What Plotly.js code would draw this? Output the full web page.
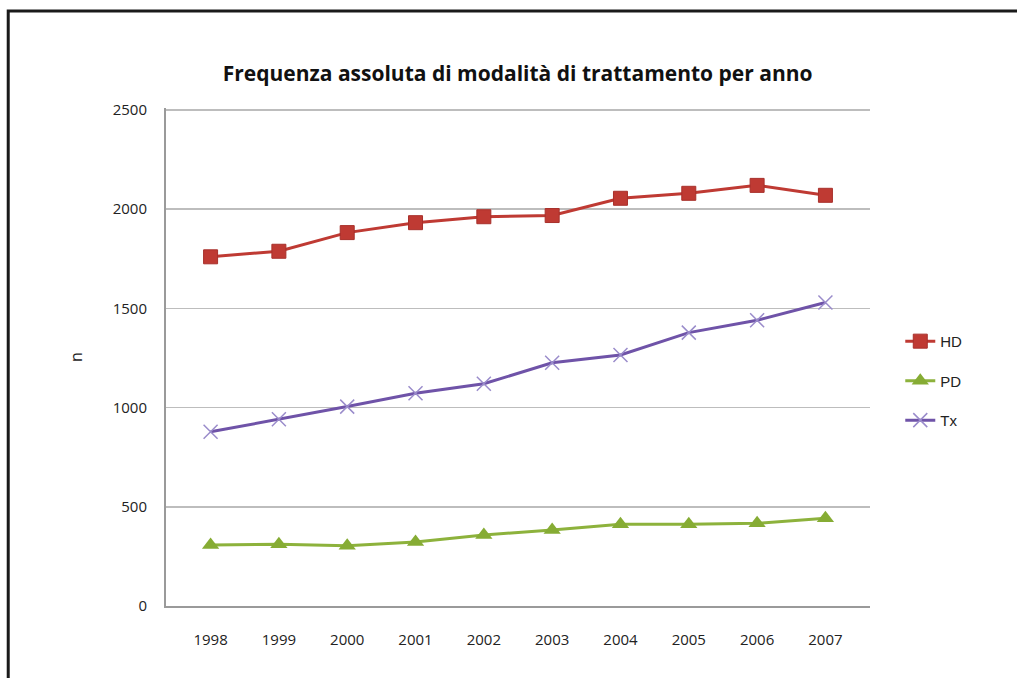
<!DOCTYPE html>
<html>
<head>
<meta charset="utf-8">
<script src="https://cdn.plot.ly/plotly-3.0.1.min.js"></script>
<style>
  html, body { margin: 0; padding: 0; background: #fff; }
  #chart { width: 1017px; height: 678px; }
</style>
</head>
<body>
<div id="chart"></div>
<script>
const years = ["1998","1999","2000","2001","2002","2003","2004","2005","2006","2007"];
const hd = [1760, 1788, 1882, 1932, 1962, 1968, 2055, 2080, 2120, 2070];
const pd = [307, 311, 304, 323, 358, 383, 412, 412, 417, 442];
const tx = [878, 941, 1005, 1072, 1120, 1226, 1265, 1378, 1440, 1530];
const seriesNames = ["HD", "PD", "Tx"];
const yTicks = [0, 500, 1000, 1500, 2000, 2500];
const chartTitle = "Frequenza assoluta di modalità di trattamento per anno";
const yTitle = "n";

const tickFont = {family: "Open Sans, sans-serif", size: 15, color: "#222222"};

const traces = [
  {
    x: years, y: hd, name: seriesNames[0], type: "scatter", mode: "lines+markers",
    legendgroup: "a",
    line: {color: "#BF3A33", width: 3},
    marker: {symbol: "square", size: 14, color: "#BF3A33", line: {color: "#A8302B", width: 1}}
  },
  {
    x: years, y: pd, name: seriesNames[1], type: "scatter", mode: "lines+markers",
    legendgroup: "b",
    line: {color: "#8DB23C", width: 3},
    marker: {symbol: "triangle-up", size: 15, color: "#86AC34"}
  },
  {
    x: years, y: tx, name: seriesNames[2], type: "scatter", mode: "lines+markers",
    legendgroup: "c",
    line: {color: "#6F53A8", width: 3},
    marker: {symbol: "x-thin", size: 14, color: "#9A8CCB", line: {color: "#9A8CCB", width: 1.5}}
  }
];

const layout = {
  width: 1017, height: 678,
  margin: {l: 166, r: 147, t: 108, b: 72},
  paper_bgcolor: "#ffffff",
  plot_bgcolor: "#ffffff",
  showlegend: true,
  title: {
    text: "<b>" + chartTitle + "</b>",
    font: {family: "Open Sans, sans-serif", size: 21, color: "#111111"},
    x: 0.509, xanchor: "center", y: 0.892, yanchor: "middle"
  },
  xaxis: {
    type: "category",
    showgrid: false,
    zeroline: false,
    showline: true, linecolor: "#9a9a9a", linewidth: 2,
    ticks: "outside", ticklen: 19, tickcolor: "rgba(0,0,0,0)",
    tickfont: tickFont,
    fixedrange: true
  },
  yaxis: {
    range: [0, 2510], tickvals: yTicks,
    showgrid: true, gridcolor: "#bdbdbd", gridwidth: 1.5,
    zeroline: false,
    showline: true, linecolor: "#9a9a9a", linewidth: 2,
    ticks: "outside", ticklen: 14, tickcolor: "rgba(0,0,0,0)",
    tickfont: tickFont,
    title: {text: yTitle, font: {family: "Open Sans, sans-serif", size: 16, color: "#222222"}, standoff: 26},
    fixedrange: true
  },
  legend: {
    x: 1.043, xanchor: "left", y: 0.452, yanchor: "middle",
    font: {family: "Liberation Sans, Arial, sans-serif", size: 15, color: "#222222"},
    traceorder: "grouped", tracegroupgap: 17,
    bgcolor: "rgba(0,0,0,0)"
  },
  shapes: [
    {
      type: "rect", xref: "paper", yref: "paper",
      x0: (8 - 166) / 705, x1: (1030 - 166) / 705,
      y0: (606 - 700) / 498, y1: (606 - 11) / 498,
      line: {color: "#1a1a1a", width: 3}, fillcolor: "rgba(0,0,0,0)", layer: "below"
    }
  ]
};

Plotly.newPlot("chart", traces, layout, {displayModeBar: false, staticPlot: true});
</script>
</body>
</html>
